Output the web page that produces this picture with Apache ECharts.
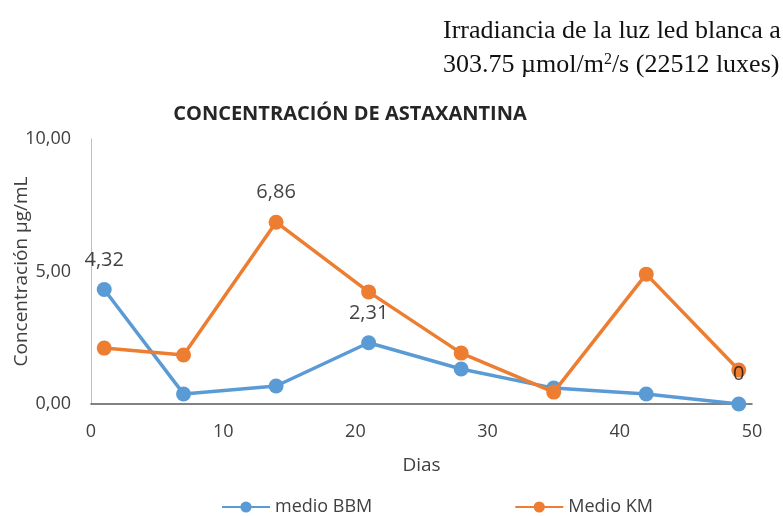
<!DOCTYPE html>
<html>
<head>
<meta charset="utf-8">
<script src="https://cdn.jsdelivr.net/npm/echarts@6/dist/echarts.min.js"></script>
<style>
  html, body { margin: 0; padding: 0; background: #fff; }
  #chart { width: 783px; height: 516px; }
</style>
</head>
<body>
<div id="chart"></div>
<script>
// Sampling days
const dias = [1, 7, 14, 21, 28, 35, 42, 49];
// Astaxanthin concentration (µg/mL) per culture medium
const medioBBM = [4.32, 0.38, 0.68, 2.31, 1.32, 0.60, 0.38, 0];
const medioKM = [2.11, 1.85, 6.86, 4.23, 1.92, 0.45, 4.90, 1.28];
// Days whose value is printed above the marker
const labeledBBM = [1, 21, 49];
const labeledKM = [14];
// Axis ticks
const xTicks = [0, 10, 20, 30, 40, 50];
const yTicks = [0, 5, 10];

const blue = '#5B9BD5';
const orange = '#ED7D31';
const textColor = '#404040';
const fontSans = '"Open Sans", "DejaVu Sans", sans-serif';
const fontSerif = '"Liberation Serif", "Times New Roman", serif';

function fmt(v) {
  return v.toFixed(2).replace('.', ',');
}
function labelText(v) {
  return v === 0 ? '0' : fmt(v);
}
function pairs(values) {
  return dias.map((d, i) => [d, values[i]]);
}
function labeledPairs(values, labeled) {
  return pairs(values).filter(p => labeled.includes(p[0]));
}

const valueLabel = {
  show: true, position: 'top', distance: 12,
  fontFamily: fontSans, fontSize: 20, color: '#111',
  formatter: p => labelText(p.value[1])
};

// Value labels live in their own top layer so they stay above every line
function labelSeries(values, labeled) {
  return {
    type: 'scatter',
    data: labeledPairs(values, labeled),
    symbol: 'circle', symbolSize: 15,
    itemStyle: { color: 'rgba(0,0,0,0)' },
    label: valueLabel,
    emphasis: { disabled: true },
    silent: true,
    z: 10
  };
}

const chart = echarts.init(document.getElementById('chart'));
chart.setOption({
  animation: false,
  grid: { left: 91, right: 31, top: 139, bottom: 112, outerBoundsMode: 'none', containLabel: false },
  title: [
    {
      text: 'CONCENTRACIÓN DE ASTAXANTINA',
      left: 345, top: 99, textAlign: 'center',
      textStyle: { fontFamily: fontSans, fontSize: 20, fontWeight: 'bold', color: '#262626' }
    },
    {
      text: 'Irradiancia de la luz led blanca a',
      left: 438, top: 13,
      textStyle: { fontFamily: fontSerif, fontSize: 26, fontWeight: 'normal', color: '#111' }
    },
    {
      text: '{a|303.75 µmol/m}{s|2}{a|/s (22512 luxes)}',
      left: 438, top: 47,
      textStyle: {
        fontWeight: 'normal',
        rich: {
          a: { fontFamily: fontSerif, fontSize: 26, fontWeight: 'normal', color: '#111' },
          s: { fontFamily: fontSerif, fontSize: 16, fontWeight: 'normal', color: '#111',
               verticalAlign: 'top', padding: [0, 0, 10, 0] }
        }
      }
    }
  ],
  legend: {
    top: 493, left: 216, itemGap: 142,
    itemWidth: 48, itemHeight: 14,
    textStyle: { fontFamily: fontSans, fontSize: 18, color: textColor },
    data: ['medio BBM', 'Medio KM']
  },
  xAxis: {
    type: 'value', min: 0, max: 50, interval: 10,
    name: 'Dias', nameLocation: 'middle', nameGap: 52, nameMoveOverlap: false,
    nameTextStyle: { fontFamily: fontSans, fontSize: 19, color: textColor },
    axisLine: { lineStyle: { color: '#595959', width: 1.5 } },
    axisTick: { show: false },
    splitLine: { show: false },
    axisLabel: { fontFamily: fontSans, fontSize: 18, color: textColor, margin: 19,
      customValues: xTicks }
  },
  yAxis: {
    type: 'value', min: 0, max: 10, interval: 5,
    name: 'Concentración µg/mL', nameLocation: 'middle', nameGap: 60, nameMoveOverlap: false,
    nameTextStyle: { fontFamily: fontSans, fontSize: 19, color: textColor },
    axisLine: { show: true, lineStyle: { color: '#bfbfbf', width: 1 } },
    axisTick: { show: false },
    splitLine: { show: false },
    axisLabel: { fontFamily: fontSans, fontSize: 18, color: textColor, margin: 20,
      formatter: v => fmt(v), customValues: yTicks }
  },
  series: [
    {
      name: 'medio BBM', type: 'line',
      data: pairs(medioBBM),
      symbol: 'circle', symbolSize: 15,
      lineStyle: { color: blue, width: 3.5 },
      itemStyle: { color: blue },
      z: 2
    },
    {
      name: 'Medio KM', type: 'line',
      data: pairs(medioKM),
      symbol: 'circle', symbolSize: 15,
      lineStyle: { color: orange, width: 3.5 },
      itemStyle: { color: orange },
      z: 3
    },
    labelSeries(medioBBM, labeledBBM),
    labelSeries(medioKM, labeledKM)
  ]
});
</script>
</body>
</html>
